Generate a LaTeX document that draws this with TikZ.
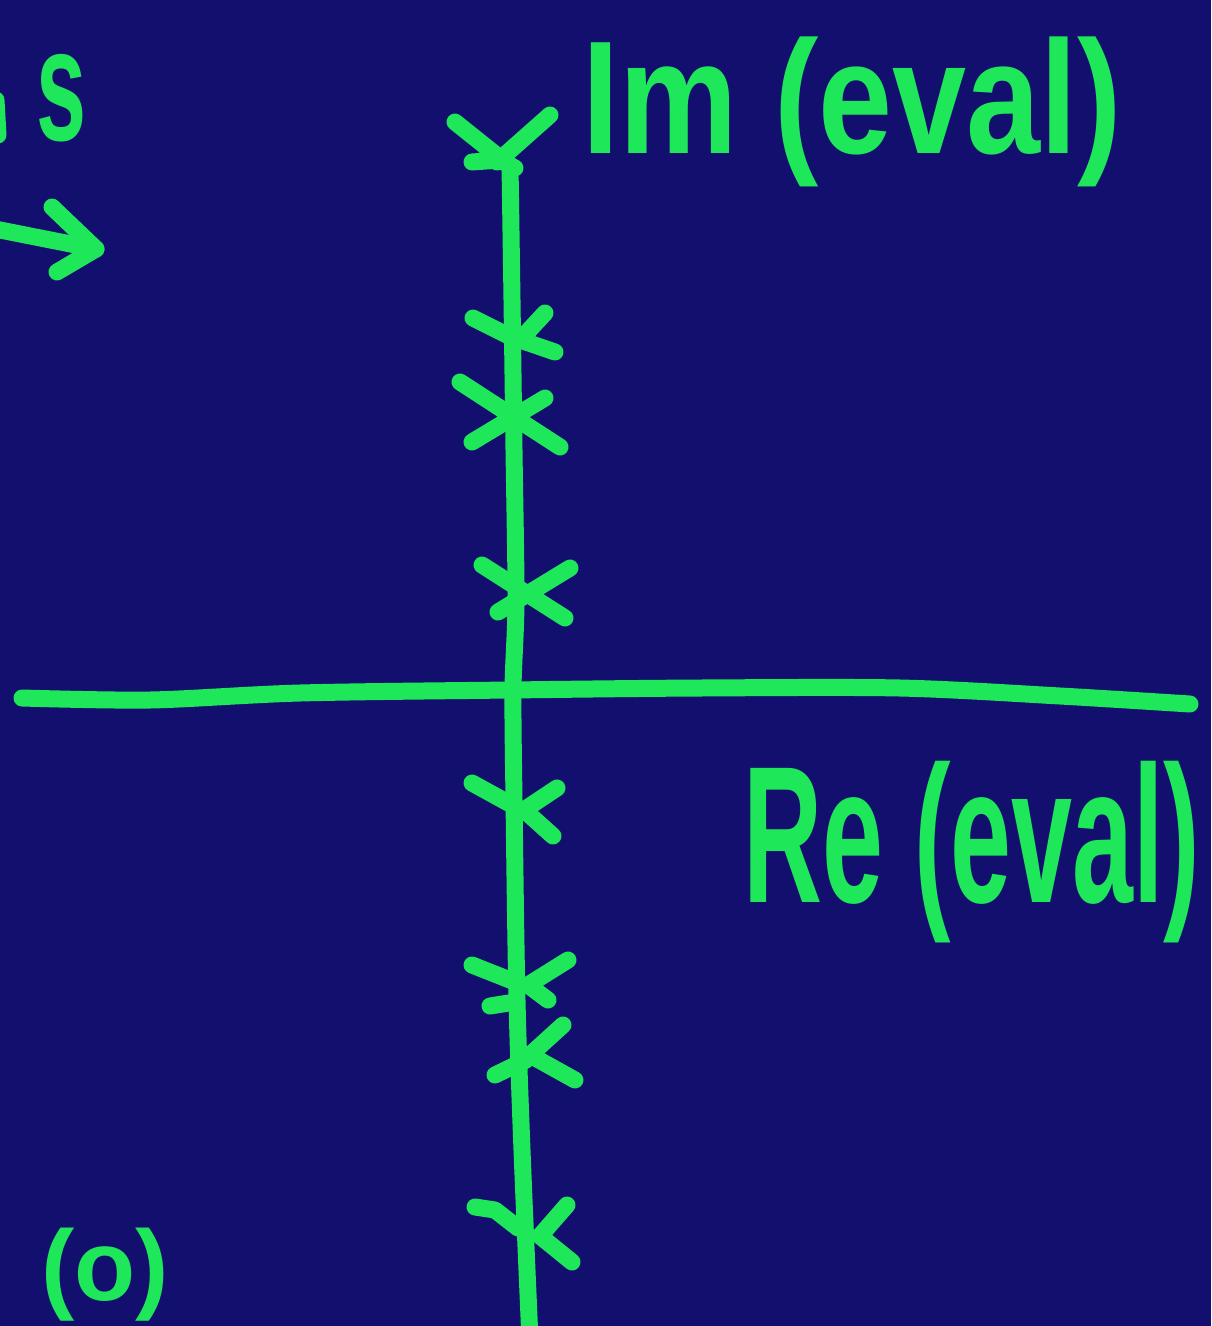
\documentclass[tikz,border=0pt]{standalone}
\usepackage{fontspec}
\setmainfont{Liberation Sans}
\definecolor{bgnavy}{RGB}{19,15,110}
\definecolor{chalk}{RGB}{30,232,90}
\tikzset{
  pen/.style={draw=chalk, line width=17pt, line cap=round, line join=round},
  lbl/.style={text=chalk, inner sep=0pt, font=\bfseries},
}
\begin{document}
\begin{tikzpicture}[x=1pt,y=-1pt]
\useasboundingbox (0,0) rectangle (1211,1326);
\fill[bgnavy] (0,0) rectangle (1211,1326);
\clip (0,0) rectangle (1211,1326);
% axes
\coordinate (vtop) at (510,165);
\coordinate (vbot) at (530,1340);
\coordinate (hl) at (22,698);
\coordinate (hr) at (1190,704);
\draw[pen] plot[smooth] coordinates {(vtop) (512,300) (514,450) (516,600) (513,690) (514,800) (517,1000) (522,1150) (vbot)};
\draw[pen] plot[smooth] coordinates {(hl) (150,700) (300,693) (510,690) (700,688) (900,688) (1060,696) (hr)};
% top cross
\draw[pen] (455,122) -- (500,158) (550,115) -- (497,162) (472,162) -- (500,160) -- (515,168);
% crosses on the imaginary axis
\draw[pen] (473,318) -- (513,338) (545,313) -- (520,340) -- (555,352);
\draw[pen] (460,382) -- (560,447) (472,442) -- (545,398);
\draw[pen] (482,565) -- (565,618) (570,568) -- (498,612);
\draw[pen] (472,783) -- (512,805) (557,788) -- (524,810) -- (553,836);
\draw[pen] (472,965) -- (515,982) (568,960) -- (528,985) -- (548,1000) (490,1006) -- (515,1002);
\draw[pen] (563,1025) -- (530,1055) -- (575,1080) (495,1075) -- (526,1060);
\draw[pen] (475,1207) -- (495,1210) -- (518,1228) (567,1205) -- (540,1236) -- (572,1262);
% labels
\node[lbl] (im) at (852,112) {\fontsize{140}{140}\selectfont\scalebox{0.95}[1.15]{Im (eval)}};
\node[lbl] (re) at (972,852) {\fontsize{150}{150}\selectfont\scalebox{0.73}[1.3]{Re (eval)}};
\node[lbl] (s) at (62,98) {\fontsize{100}{100}\selectfont\scalebox{0.9}[1.6]{s}};
\node[lbl, anchor=base] (o) at (105,1300) {\fontsize{100}{100}\selectfont (o)};
% partial strokes at the left edge
\draw[pen] (-4,100) -- (-2,135);
\coordinate (arrtail) at (-10,228);
\coordinate (arrtip) at (96,249);
\draw[pen] (arrtail) -- (arrtip);
\draw[pen] (52,207) -- (arrtip) -- (57,272);
\end{tikzpicture}
\end{document}
